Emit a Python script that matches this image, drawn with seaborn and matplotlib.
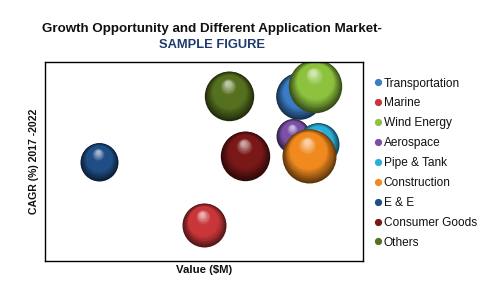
import numpy as np
import pandas as pd
import matplotlib
matplotlib.use("Agg")
import matplotlib.pyplot as plt
import seaborn as sns
from matplotlib.lines import Line2D
from matplotlib.colors import to_rgb

# ---- data ----
categories = ["Transportation", "Marine", "Wind Energy", "Aerospace", "Pipe & Tank",
              "Construction", "E & E", "Consumer Goods", "Others"]
market_value = [80, 50, 85, 78, 86, 83, 17, 63, 58]      # x (relative)
cagr = [83, 18, 88, 63, 59, 53, 50, 53, 83]              # y (relative)
bubble_size = [545, 484, 713, 289, 441, 729, 361, 610, 610]
colors = ["#3A7CC6", "#C9363A", "#8DC23E", "#7B4FA8", "#2AB0D8",
          "#F08A1E", "#1F4E86", "#7A1818", "#55701F"]

title_text = "Growth Opportunity and Different Application Market-"
subtitle_text = "SAMPLE FIGURE"
x_label = "Value ($M)"
y_label = "CAGR (%) 2017 -2022"

df = pd.DataFrame({"category": categories, "value": market_value,
                   "cagr": cagr, "size": bubble_size})

sns.set_theme(style="white")
plt.rcParams['font.family'] = ['Liberation Sans', 'DejaVu Sans']

fig = plt.figure(figsize=(4.8, 2.88), dpi=100)
ax = fig.add_axes([45 / 480, 27 / 288, 318 / 480, 199 / 288])
ax.set_xlim(0, 100)
ax.set_ylim(0, 100)

SMAX = 1512.0
SNORM = max(bubble_size)

def mix(a, b, t):
    a = np.array(to_rgb(a)); b = np.array(to_rgb(b))
    return tuple(a + (b - a) * t)

# data units per point
ax_h_px = ax.bbox.height
ax_w_px = ax.bbox.width
px_per_pt = fig.dpi / 72.0
dy_per_pt = px_per_pt * 100.0 / ax_h_px
dx_per_pt = px_per_pt * 100.0 / ax_w_px

z = 2
for i, row in df.iterrows():
    base = colors[i]
    dark = mix(base, "#000000", 0.6)
    light = mix(base, "#ffffff", 0.6)
    sub = df.iloc[[i]]
    sns.scatterplot(data=sub, x="value", y="cagr", size="size",
                    sizes=(0, SMAX), size_norm=(0, SNORM), color=dark,
                    linewidth=0, legend=False, ax=ax, zorder=z)
    z += 1
    s_full = row["size"] / SNORM * SMAX
    r_pt = np.sqrt(s_full) / 2
    N = 30
    for t in np.linspace(0, 1, N)[1:]:
        f = 1 - 0.9 * t
        if t < 0.35:
            c = mix(dark, base, t / 0.35)
        elif t < 0.72:
            c = base
        else:
            c = mix(base, light, (t - 0.72) / 0.28)
        ax.scatter([row["value"] - 0.08 * t * r_pt * dx_per_pt],
                   [row["cagr"] + 0.5 * t * r_pt * dy_per_pt],
                   s=s_full * f * f, color=c, linewidths=0, zorder=z)
        z += 1

ax.set_xticks([])
ax.set_yticks([])
for sp in ax.spines.values():
    sp.set_color("black")
    sp.set_linewidth(1.0)
    sp.set_visible(True)
    sp.set_zorder(1000)

ax.set_xlabel(x_label, fontsize=8.2, fontweight="bold", labelpad=3, color="#111111")
ax.set_ylabel(y_label, fontsize=7.6, fontweight="bold", color="#111111")
ax.yaxis.set_label_coords(-0.02, 0.5)

fig.text(212 / 480, 1 - 29 / 288, title_text, ha="center", va="center",
         fontsize=9.6, fontweight="bold", color="#111111")
fig.text(212 / 480, 1 - 44.5 / 288, subtitle_text, ha="center", va="center",
         fontsize=9.3, fontweight="bold", color="#1F3A6E")

handles = [Line2D([], [], marker="o", linestyle="", color=c, markersize=4.2)
           for c in colors]
leg = fig.legend(handles, categories, loc="upper left",
                 bbox_to_anchor=(373 / 480, 1 - 77.5 / 288), frameon=False,
                 fontsize=8.6, handletextpad=0.1, handlelength=0.8,
                 labelspacing=0.66, borderaxespad=0, borderpad=0)
for t in leg.get_texts():
    t.set_color("#111111")

fig.savefig("out.png", dpi=100)
